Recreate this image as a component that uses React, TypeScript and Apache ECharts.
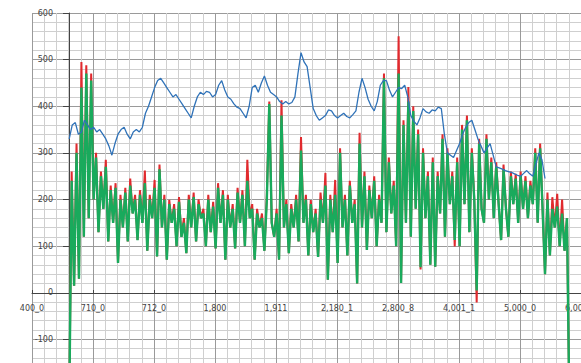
import React, { useEffect, useRef } from "react";
import * as echarts from "echarts";

const X_LABELS = ["400_0", "710_0", "712_0", "1,800", "1,911", "2,180_1", "2,800_8", "4,001_1", "5,000_0", "6,000_0", "7,000_0"];
const Y_MIN = -200;
const Y_MAX = 600;

const GREEN_X0 = 61;
const GREEN_STEP = 4;
const GREEN = [
  -250, 240, 15, 300, 30, 440, 120, 470, 160, 455,
  200, 290, 130, 250, 180, 270, 110, 220, 150, 225,
  64, 200, 140, 215, 110, 230, 170, 200, 113, 210,
  150, 235, 90, 200, 160, 225, 78, 265, 140, 200,
  71, 190, 150, 180, 100, 195, 120, 150, 85, 200,
  140, 205, 110, 190, 160, 170, 100, 200, 130, 185,
  95, 225, 150, 210, 71, 200, 140, 180, 95, 215,
  150, 210, 100, 240, 160, 180, 71, 170, 140, 160,
  90, 200, 405, 150, 120, 170, 71, 380, 140, 190,
  85, 180, 140, 200, 110, 305, 150, 200, 80, 190,
  130, 170, 77, 200, 150, 230, 28, 200, 130, 210,
  64, 300, 140, 200, 80, 230, 150, 190, 20, 320,
  140, 250, 92, 220, 160, 240, 100, 200, 150, 460,
  130, 280, 170, 230, 100, 470, 21, 360, 150, 410,
  120, 390, 180, 340, 55, 300, 160, 250, 60, 280,
  56, 250, 170, 330, 120, 300, 190, 250, 113, 280,
  100, 350, 190, 370, 130, 300, 200, 5, 320, 180,
  150, 330, 200, 280, 160, 270, 190, 113, 265, 180,
  120, 250, 190, 245, 150, 250, 180, 240, 160, 230,
  190, 300, 150, 310, 180, 40, 200, 80, 180, 140,
  185, 100, 170, 90, 160, -250,
];

const RED = [
  -250, 260, 15, 320, 30, 495, 120, 488, 160, 470,
  200, 300, 130, 260, 180, 285, 110, 230, 150, 235,
  64, 210, 140, 225, 110, 245, 170, 210, 113, 220,
  150, 262, 90, 210, 160, 242, 78, 275, 140, 210,
  71, 199, 150, 190, 100, 205, 120, 160, 85, 210,
  140, 215, 110, 200, 160, 180, 100, 210, 130, 195,
  95, 235, 150, 220, 71, 210, 140, 190, 95, 225,
  150, 220, 100, 285, 160, 190, 71, 180, 140, 170,
  90, 210, 410, 150, 120, 180, 71, 413, 140, 200,
  85, 190, 140, 210, 110, 334, 150, 210, 80, 199,
  130, 180, 77, 215, 150, 257, 28, 210, 130, 242,
  64, 310, 140, 210, 80, 240, 150, 200, 20, 343,
  140, 260, 92, 230, 160, 250, 100, 210, 150, 470,
  130, 290, 170, 240, 100, 550, 21, 370, 150, 441,
  120, 400, 180, 350, 50, 310, 160, 260, 60, 290,
  56, 260, 170, 340, 120, 310, 190, 260, 99, 290,
  100, 360, 190, 380, 130, 310, 200, -21, 330, 180,
  150, 340, 200, 290, 160, 280, 190, 113, 275, 180,
  120, 260, 190, 255, 150, 260, 180, 250, 160, 240,
  190, 310, 150, 320, 180, 40, 215, 80, 205, 140,
  212, 100, 200, 90, 160, -250,
];

const BLUE_X0 = 61;
const BLUE_STEP = 5;
const BLUE = [
  330, 360, 365, 340, 345, 370, 360, 350, 355, 345,
  350, 340, 330, 315, 295, 320, 340, 350, 355, 340,
  330, 345, 350, 345, 355, 385, 400, 420, 440, 455,
  460, 450, 440, 430, 420, 425, 415, 405, 395, 385,
  375, 400, 420, 430, 425, 432, 430, 420, 425, 445,
  455, 435, 420, 415, 405, 398, 395, 385, 375, 400,
  440, 445, 430, 450, 465, 445, 430, 425, 420, 410,
  405, 410, 405, 408, 420, 470, 515, 495, 485, 440,
  395, 380, 370, 375, 380, 392, 390, 380, 375, 380,
  385, 378, 375, 382, 390, 430, 460, 440, 415, 400,
  390, 410, 445, 455, 455, 435, 420, 430, 440, 438,
  445, 420, 380, 368, 360, 375, 395, 388, 385, 392,
  390, 398, 395, 340, 300, 295, 290, 305, 320, 340,
  355, 365, 370, 350, 330, 315, 300, 310, 320, 295,
  270, 268, 265, 262, 260, 258, 255, 252, 250, 256,
  262, 255, 250, 275, 300, 285, 245,
];

export default function App() {
  const ref = useRef<HTMLDivElement>(null);
  useEffect(() => {
    if (!ref.current) return;
    const chart = echarts.init(ref.current, null, { renderer: "svg" });
    const toPairs = (arr: number[], x0: number, step: number) =>
      arr.map((v, i) => [x0 + i * step, v]);
    chart.setOption({
      animation: false,
      backgroundColor: "#ffffff",
      grid: { left: 32, top: 13, width: 610, height: 373, containLabel: false, outerBoundsMode: "none" },
      xAxis: {
        type: "value",
        min: 0,
        max: 1000,
        interval: 100,
        position: "bottom",
        offset: -93,
        axisLine: { onZero: false, lineStyle: { color: "#444", width: 1 } },
        axisTick: { show: true, inside: true, length: 3, lineStyle: { color: "#444" } },
        minorTick: { show: false, splitNumber: 5 },
        axisLabel: {
          fontSize: 8,
          color: "#444",
          margin: 11,
          fontFamily: "DejaVu Sans",
          formatter: (v: number) => X_LABELS[Math.round(v / 100)] ?? "",
        },
        splitLine: { show: true, lineStyle: { color: "#9a9a9a", width: 1 } },
        minorSplitLine: { show: true, lineStyle: { color: "#cfcfcf", width: 1 } },
      },
      yAxis: {
        type: "value",
        min: Y_MIN,
        max: Y_MAX,
        interval: 100,
        offset: -37,
        axisLine: { show: true, onZero: false, lineStyle: { color: "#444", width: 1 } },
        axisTick: { show: true, length: 6, lineStyle: { color: "#444" } },
        minorTick: { show: false, splitNumber: 5 },
        axisLabel: { fontSize: 8, color: "#444", margin: 16, fontFamily: "DejaVu Sans", showMinLabel: false },
        splitLine: { show: true, lineStyle: { color: "#9a9a9a", width: 1 } },
        minorSplitLine: { show: true, lineStyle: { color: "#cfcfcf", width: 1 } },
      },
      series: [
        {
          type: "line",
          data: toPairs(RED, GREEN_X0, GREEN_STEP),
          showSymbol: false,
          symbol: "none",
          lineStyle: { color: "#e02a2e", width: 2 },
          z: 2,
        },
        {
          type: "line",
          data: toPairs(GREEN, GREEN_X0, GREEN_STEP),
          showSymbol: false,
          symbol: "none",
          lineStyle: { color: "#19aa5c", width: 2.4 },
          z: 3,
        },
        {
          type: "line",
          data: toPairs(BLUE, BLUE_X0, BLUE_STEP),
          showSymbol: false,
          symbol: "none",
          lineStyle: { color: "#2f72b8", width: 1.3 },
          z: 4,
        },
      ],
    });
    return () => chart.dispose();
  }, []);
  return (
    <div
      ref={ref}
      style={{ position: "fixed", left: 0, top: 0, width: 650, height: 400, background: "#fff" }}
    />
  );
}
